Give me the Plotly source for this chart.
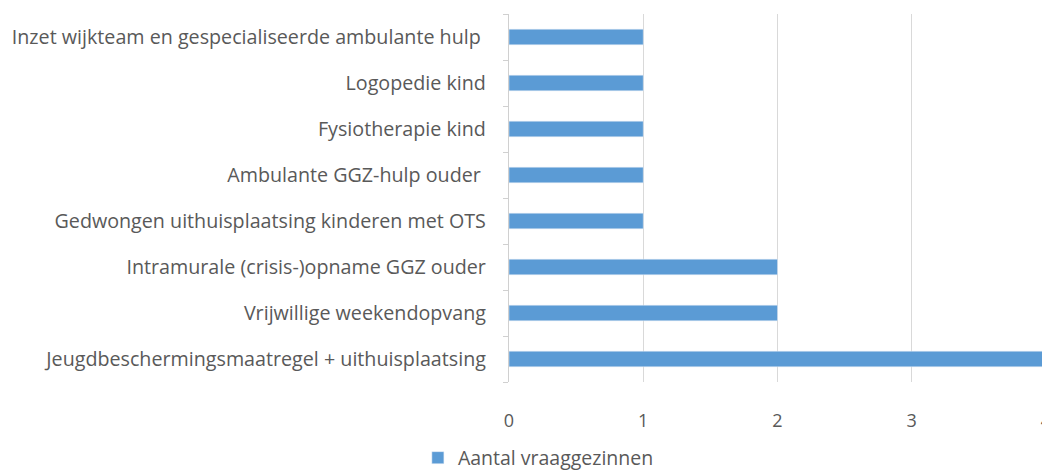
import plotly.graph_objects as go

categories = [
    "Jeugdbeschermingsmaatregel + uithuisplaatsing",
    "Vrijwillige weekendopvang",
    "Intramurale (crisis-)opname GGZ ouder",
    "Gedwongen uithuisplaatsing kinderen met OTS",
    "Ambulante GGZ-hulp ouder ",
    "Fysiotherapie kind",
    "Logopedie kind",
    "Inzet wijkteam en gespecialiseerde ambulante hulp ",
]
values = [4, 2, 2, 1, 1, 1, 1, 1]
series_name = "Aantal vraaggezinnen"
x_ticks = [0, 1, 2, 3, 4]

font_family = "Open Sans, sans-serif"
text_color = "#595959"

fig = go.Figure(
    go.Bar(
        y=categories,
        x=values,
        orientation="h",
        name=series_name,
        marker=dict(color="#5B9BD5"),
        showlegend=True,
    )
)

fig.update_layout(
    width=1042,
    height=462,
    margin=dict(l=501, r=4, t=6, b=88, autoexpand=False),
    paper_bgcolor="white",
    plot_bgcolor="white",
    bargap=0.66,
    font=dict(family=font_family, size=19.7, color=text_color),
    legend=dict(
        orientation="h",
        xref="container",
        yref="container",
        x=0.509,
        y=0.026,
        xanchor="center",
        yanchor="middle",
        font=dict(size=19.5, color=text_color),
        itemwidth=30,
    ),
    xaxis=dict(
        range=[0, 4],
        tickvals=x_ticks,
        showgrid=True,
        gridcolor="#d9d9d9",
        gridwidth=1.3,
        zeroline=False,
        showline=False,
        ticks="",
        automargin=False,
        ticklabeloverflow="allow",
        ticklabelstandoff=26,
        tickfont=dict(size=18, color=text_color),
    ),
    yaxis=dict(
        type="category",
        categoryorder="array",
        categoryarray=categories,
        showline=True,
        linecolor="#d0d0d0",
        linewidth=1.3,
        ticks="outside",
        tickson="boundaries",
        ticklen=5,
        tickcolor="#d0d0d0",
        showgrid=False,
        automargin=False,
        ticklabelstandoff=18,
        tickfont=dict(size=19.7, color=text_color),
    ),
)

fig.write_html("out.html")
